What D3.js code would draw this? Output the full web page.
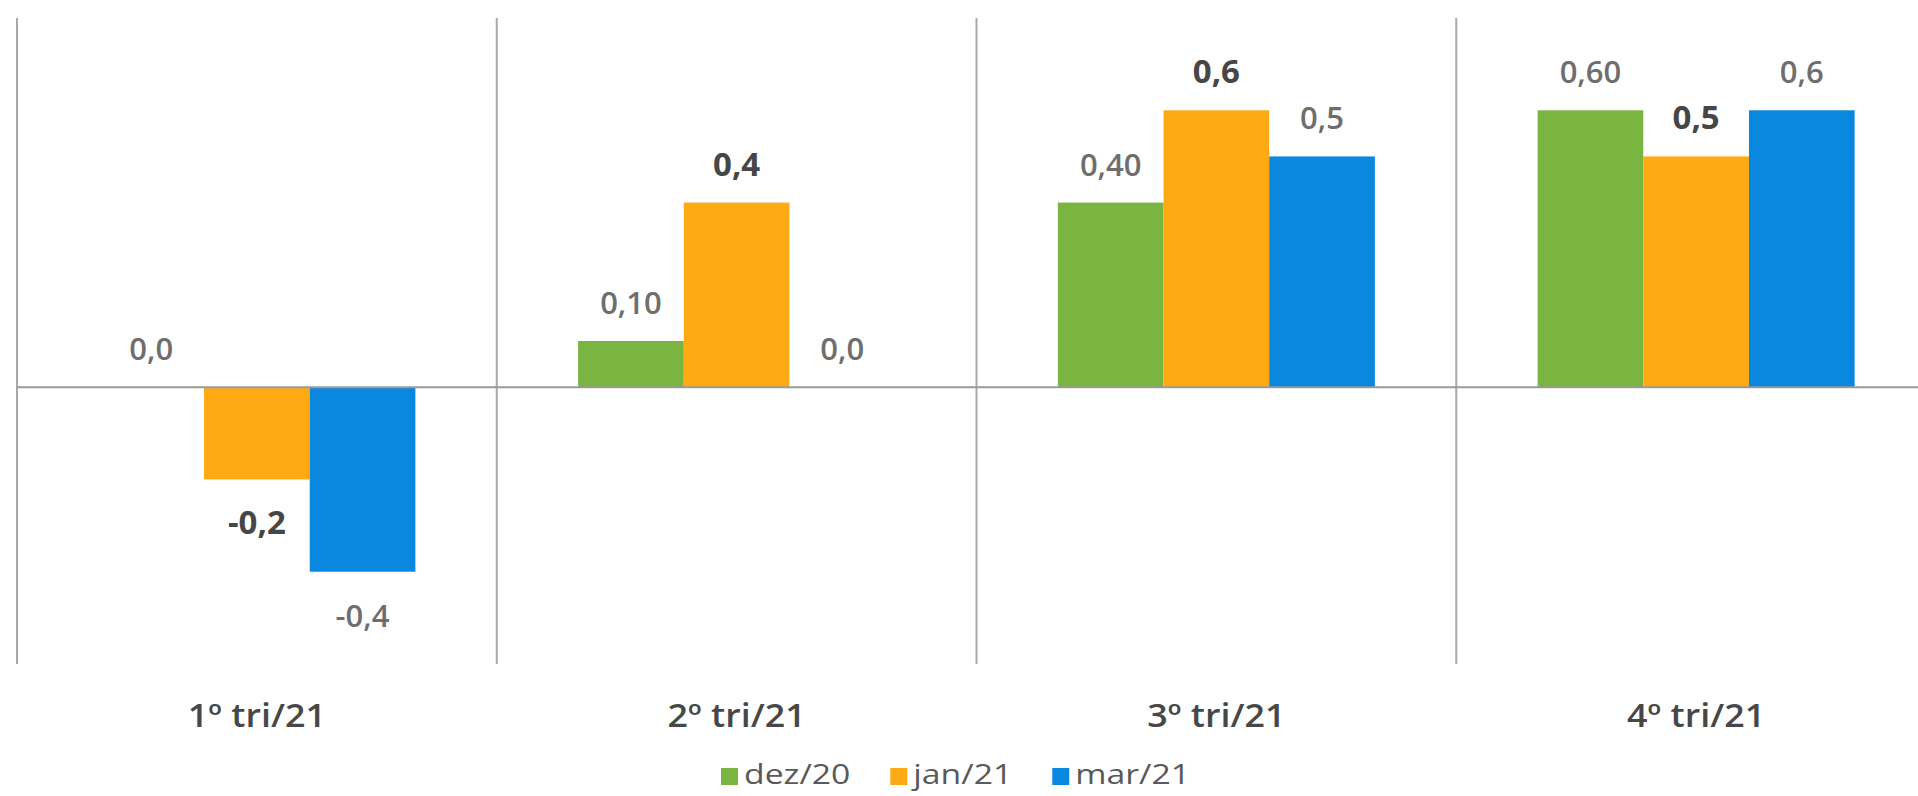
<!DOCTYPE html>
<html>
<head>
<meta charset="utf-8">
<script src="https://cdn.jsdelivr.net/npm/d3@7"></script>
<style>
  html, body { margin: 0; padding: 0; background: #ffffff; }
  svg { display: block; }
  text { font-family: "Open Sans", "DejaVu Sans", sans-serif; }
</style>
</head>
<body>
<svg id="chart" width="1918" height="796"></svg>
<script>
// Quarters on the category axis
const categories = ["1º tri/21", "2º tri/21", "3º tri/21", "4º tri/21"];

// Forecast vintages (legend entries)
const seriesNames = ["dez/20", "jan/21", "mar/21"];

// Values per vintage, one per quarter
const dez20 = [0.0, 0.10, 0.40, 0.60];
const jan21 = [-0.2, 0.4, 0.6, 0.5];
const mar21 = [-0.4, 0.0, 0.5, 0.6];

// Data labels as printed on the bars
const dez20Labels = ["0,0", "0,10", "0,40", "0,60"];
const jan21Labels = ["-0,2", "0,4", "0,6", "0,5"];
const mar21Labels = ["-0,4", "0,0", "0,5", "0,6"];

const seriesValues = [dez20, jan21, mar21];
const seriesLabels = [dez20Labels, jan21Labels, mar21Labels];
const seriesColors = ["#7ab441", "#fdaa15", "#0a87df"];

const svg = d3.select("#chart");

// Plot area (the last column runs past the right edge)
const plotLeft = 17, plotRight = 1936, plotTop = 18, plotBottom = 664;

const x = d3.scaleBand()
  .domain(categories)
  .range([plotLeft, plotRight])
  .paddingInner(0)
  .paddingOuter(0);

const xInner = d3.scaleBand()
  .domain(seriesNames)
  .range([0, x.bandwidth()])
  .paddingInner(0)
  .paddingOuter(0.77);

const y = d3.scaleLinear()
  .domain([-0.6, 0.8])
  .range([plotBottom, plotTop]);

// Vertical separators between quarters
svg.append("g")
  .selectAll("line")
  .data(categories)
  .join("line")
  .attr("x1", d => x(d))
  .attr("x2", d => x(d))
  .attr("y1", plotTop)
  .attr("y2", plotBottom)
  .attr("stroke", "#a9a9a9")
  .attr("stroke-width", 2);

// Bars
const rows = [];
seriesNames.forEach((s, si) => {
  categories.forEach((c, ci) => {
    rows.push({
      cat: c, series: s, si,
      value: seriesValues[si][ci],
      label: seriesLabels[si][ci]
    });
  });
});

svg.append("g")
  .selectAll("rect")
  .data(rows)
  .join("rect")
  .attr("x", d => x(d.cat) + xInner(d.series))
  .attr("width", xInner.bandwidth())
  .attr("y", d => y(Math.max(0, d.value)))
  .attr("height", d => Math.abs(y(d.value) - y(0)))
  .attr("fill", d => seriesColors[d.si]);

// Zero line
svg.append("line")
  .attr("x1", plotLeft)
  .attr("x2", plotRight)
  .attr("y1", y(0))
  .attr("y2", y(0))
  .attr("stroke", "#9a9a9a")
  .attr("stroke-width", 2);

// Data labels: the jan/21 vintage is emphasised
svg.append("g")
  .selectAll("text")
  .data(rows)
  .join("text")
  .attr("x", d => x(d.cat) + xInner(d.series) + xInner.bandwidth() / 2)
  .attr("y", d => d.value >= 0 ? y(d.value) - 27 : y(d.value) + 55)
  .attr("text-anchor", "middle")
  .attr("font-size", d => d.si === 1 ? 33 : 31)
  .attr("font-weight", d => d.si === 1 ? 700 : 600)
  .attr("fill", d => d.si === 1 ? "#464646" : "#6e6e6e")
  .text(d => d.label);

// Category labels
svg.append("g")
  .selectAll("text")
  .data(categories)
  .join("text")
  .attr("transform", d => `translate(${x(d) + x.bandwidth() / 2},727) scale(1.12,1)`)
  .attr("text-anchor", "middle")
  .attr("font-size", 32)
  .attr("font-weight", 600)
  .attr("fill", "#474747")
  .text(d => d);

// Legend
const legend = svg.append("g");
let lx = 721;
seriesNames.forEach((s, i) => {
  legend.append("rect")
    .attr("x", lx)
    .attr("y", 768)
    .attr("width", 17)
    .attr("height", 17)
    .attr("fill", seriesColors[i]);
  const t = legend.append("text")
    .attr("transform", `translate(${lx + 23},784) scale(1.25,1)`)
    .attr("font-size", 27)
    .attr("fill", "#595959")
    .text(s);
  const w = t.node().getComputedTextLength() * 1.25;
  lx += 23 + w + 40;
});
</script>
</body>
</html>
